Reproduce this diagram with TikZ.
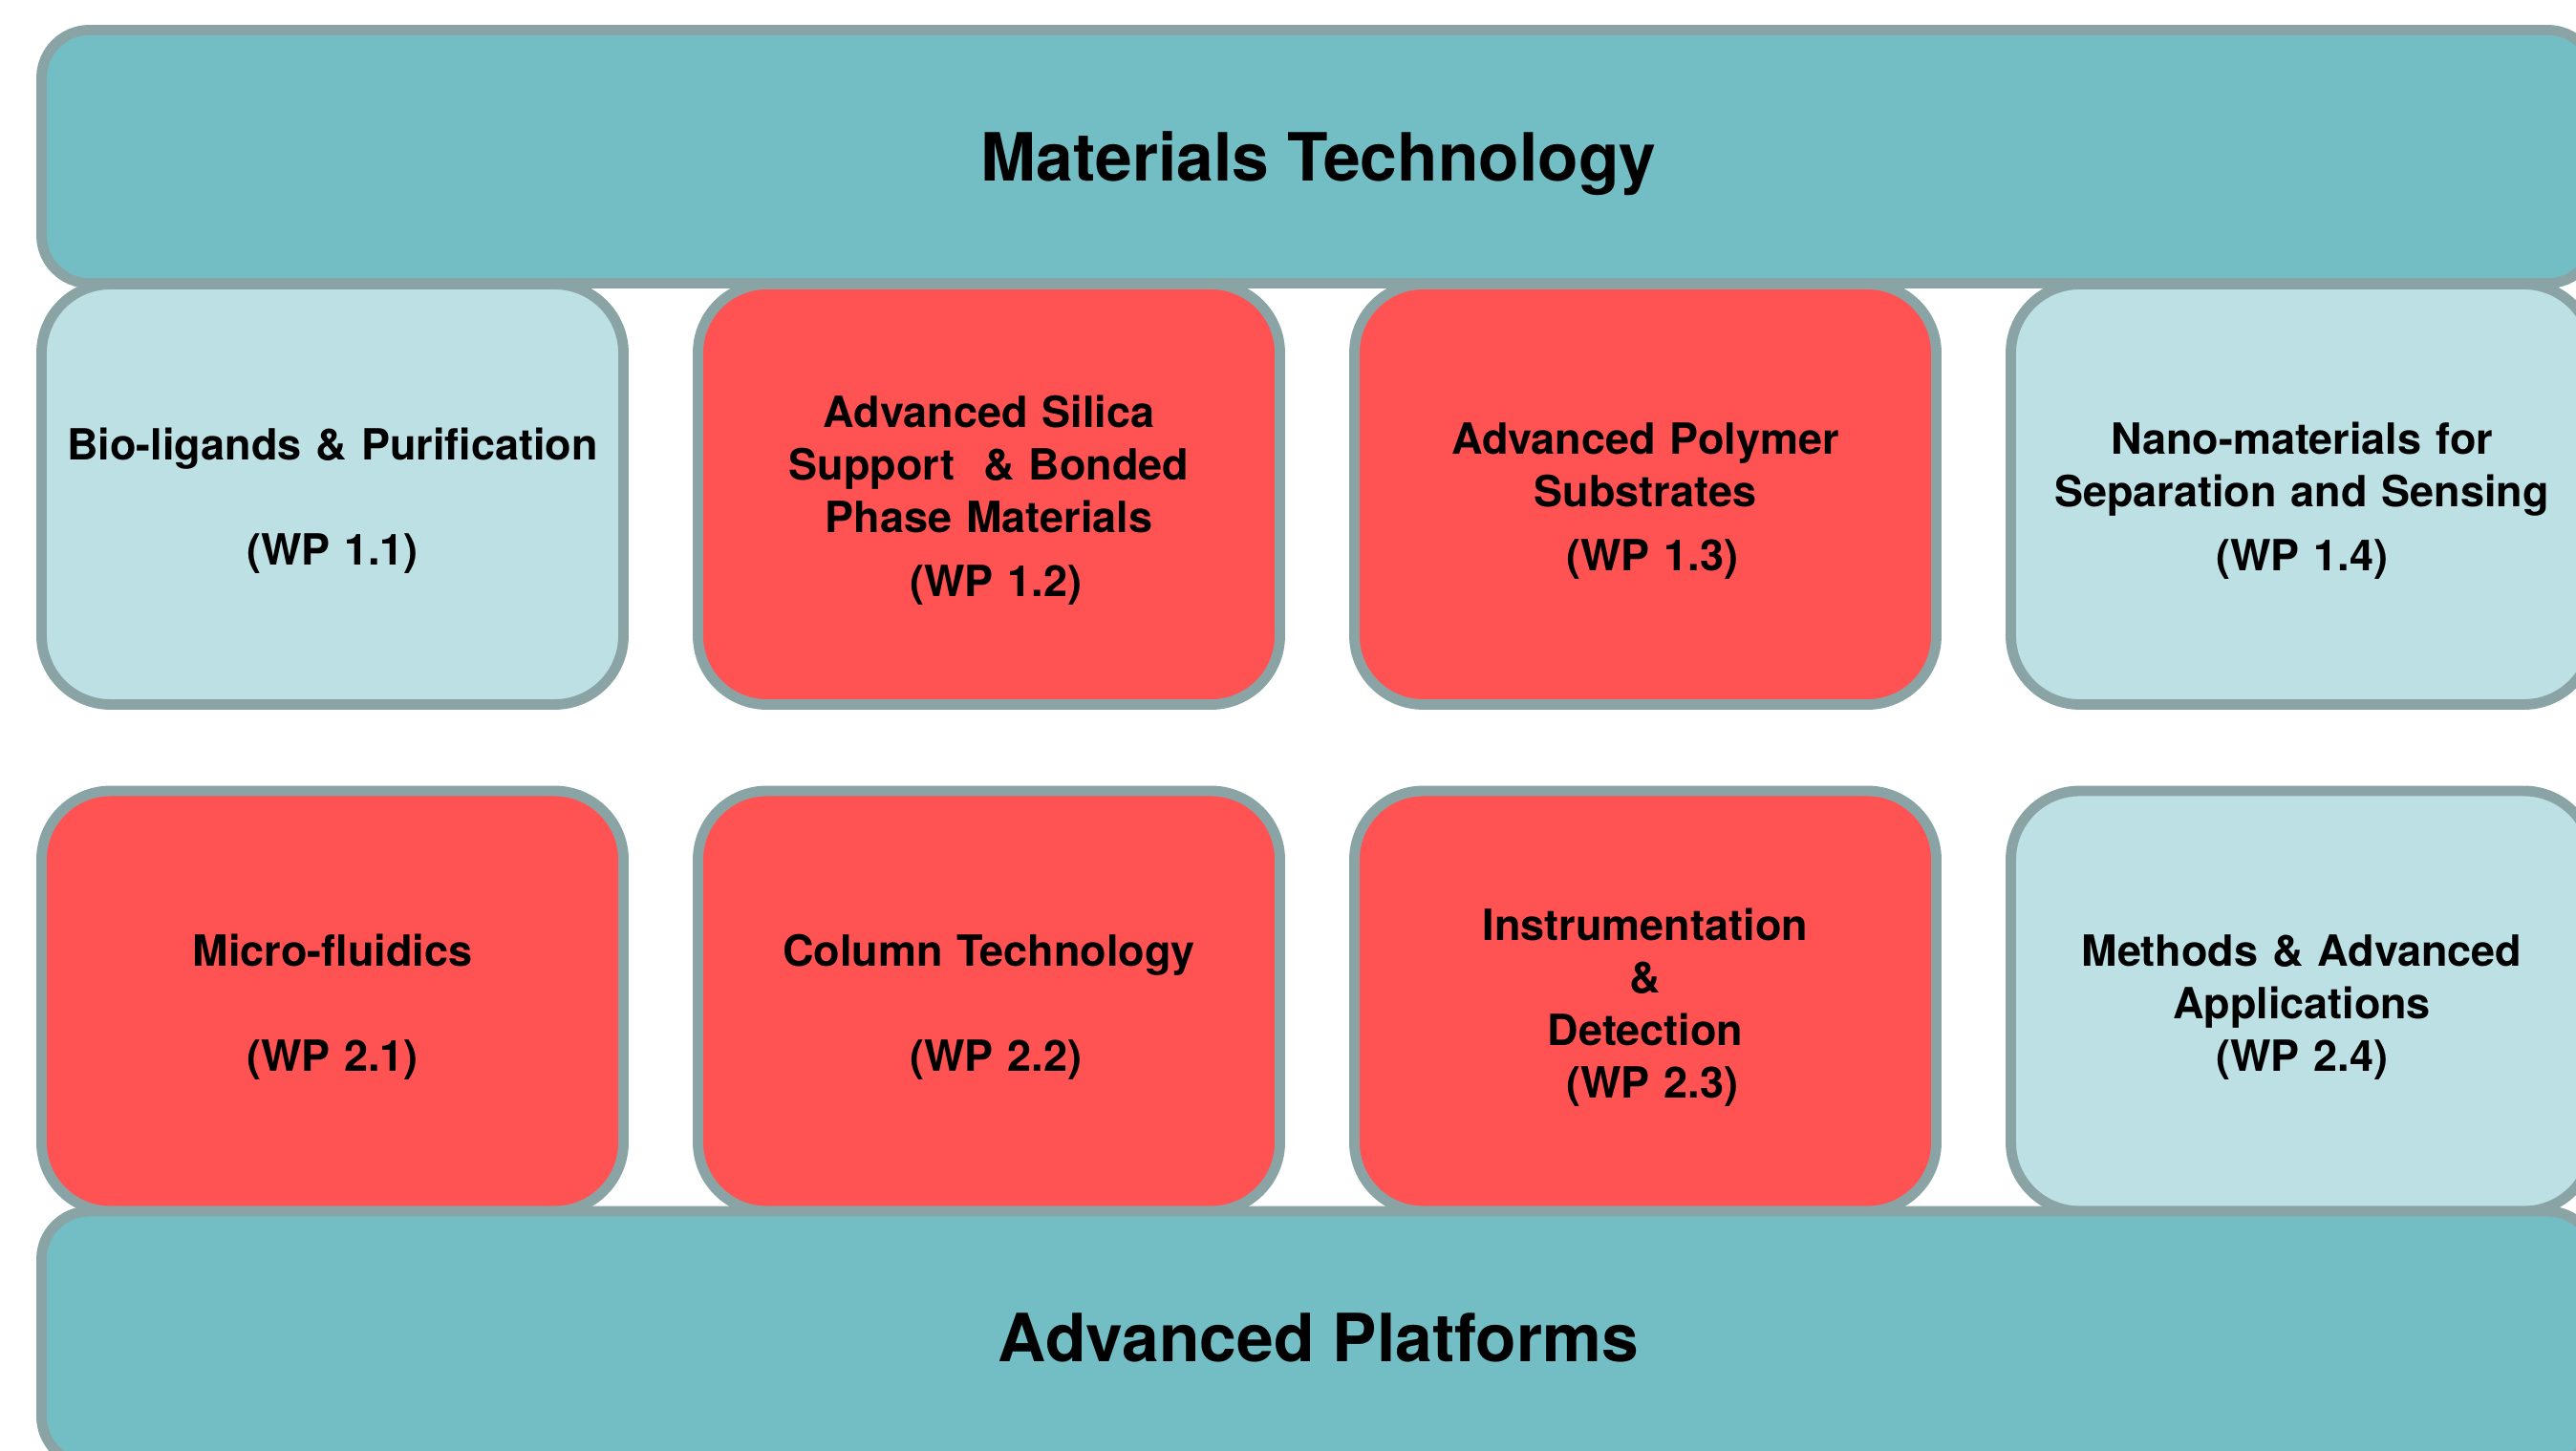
\documentclass[tikz,border=0pt]{standalone}
\usepackage{fontspec}
\setmainfont{TeX Gyre Heros}

\definecolor{bordergray}{RGB}{138,164,166}
\definecolor{barteal}{RGB}{115,190,196}
\definecolor{paleteal}{RGB}{188,224,227}
\definecolor{wpred}{RGB}{255,82,82}

\tikzset{
	wpbox/.style={draw=bordergray, line width=3.1pt, rounded corners=0.72cm, minimum width=6.09cm, minimum height=4.4cm, text width=5.9cm, align=center, inner sep=0pt, font=\fontsize{12.8}{15.65}\selectfont\bfseries, execute at begin node={\rule{0pt}{13.3pt}}},
	palebox/.style={wpbox, fill=paleteal},
	redbox/.style={wpbox, fill=wpred},
	bar/.style={draw=bordergray, fill=barteal, line width=3.1pt, rounded corners=0.5cm, minimum width=26.73cm, minimum height=2.65cm, inner sep=0pt, text depth=0pt, font=\fontsize{19.8}{24}\selectfont\bfseries}
}

\begin{document}
\begin{tikzpicture}
		\useasboundingbox (0,0) rectangle (26.96,-15.19);
		
		%Coordinates
		\coordinate (T) at (13.80,-1.64);
		\coordinate (B) at (13.80,-14.005);
		
		%Work packages, row 1
		\node[palebox] (WP11) at (3.48,-5.175) {Bio-ligands \& Purification\\[15.65pt](WP 1.1)};
		\node[redbox] (WP12) at (10.35,-5.175) {Advanced Silica\\Support\ \ \& Bonded\\Phase Materials\\[3.4pt]\ (WP 1.2)};
		\node[redbox] (WP13) at (17.22,-5.175) {Advanced Polymer\\Substrates\\[3.4pt]\ (WP 1.3)};
		\node[palebox] (WP14) at (24.09,-5.175) {Nano-materials for\\Separation and Sensing\\[3.4pt](WP 1.4)};
		
		%Work packages, row 2
		\node[redbox] (WP21) at (3.48,-10.48) {Micro-fluidics\\[15.65pt](WP 2.1)};
		\node[redbox] (WP22) at (10.35,-10.48) {Column Technology\\[15.65pt]\ (WP 2.2)};
		\node[redbox] (WP23) at (17.22,-10.48) {Instrumentation\\\&\\Detection\\\ (WP 2.3)};
		\node[palebox] (WP24) at (24.09,-10.48) {Methods \& Advanced\\Applications\\(WP 2.4)};
		
		%Bars
		\node[bar] (MT) at (T) {Materials Technology};
		\node[bar] (AP) at (B) {Advanced Platforms};
		
	\end{tikzpicture}
\end{document}
